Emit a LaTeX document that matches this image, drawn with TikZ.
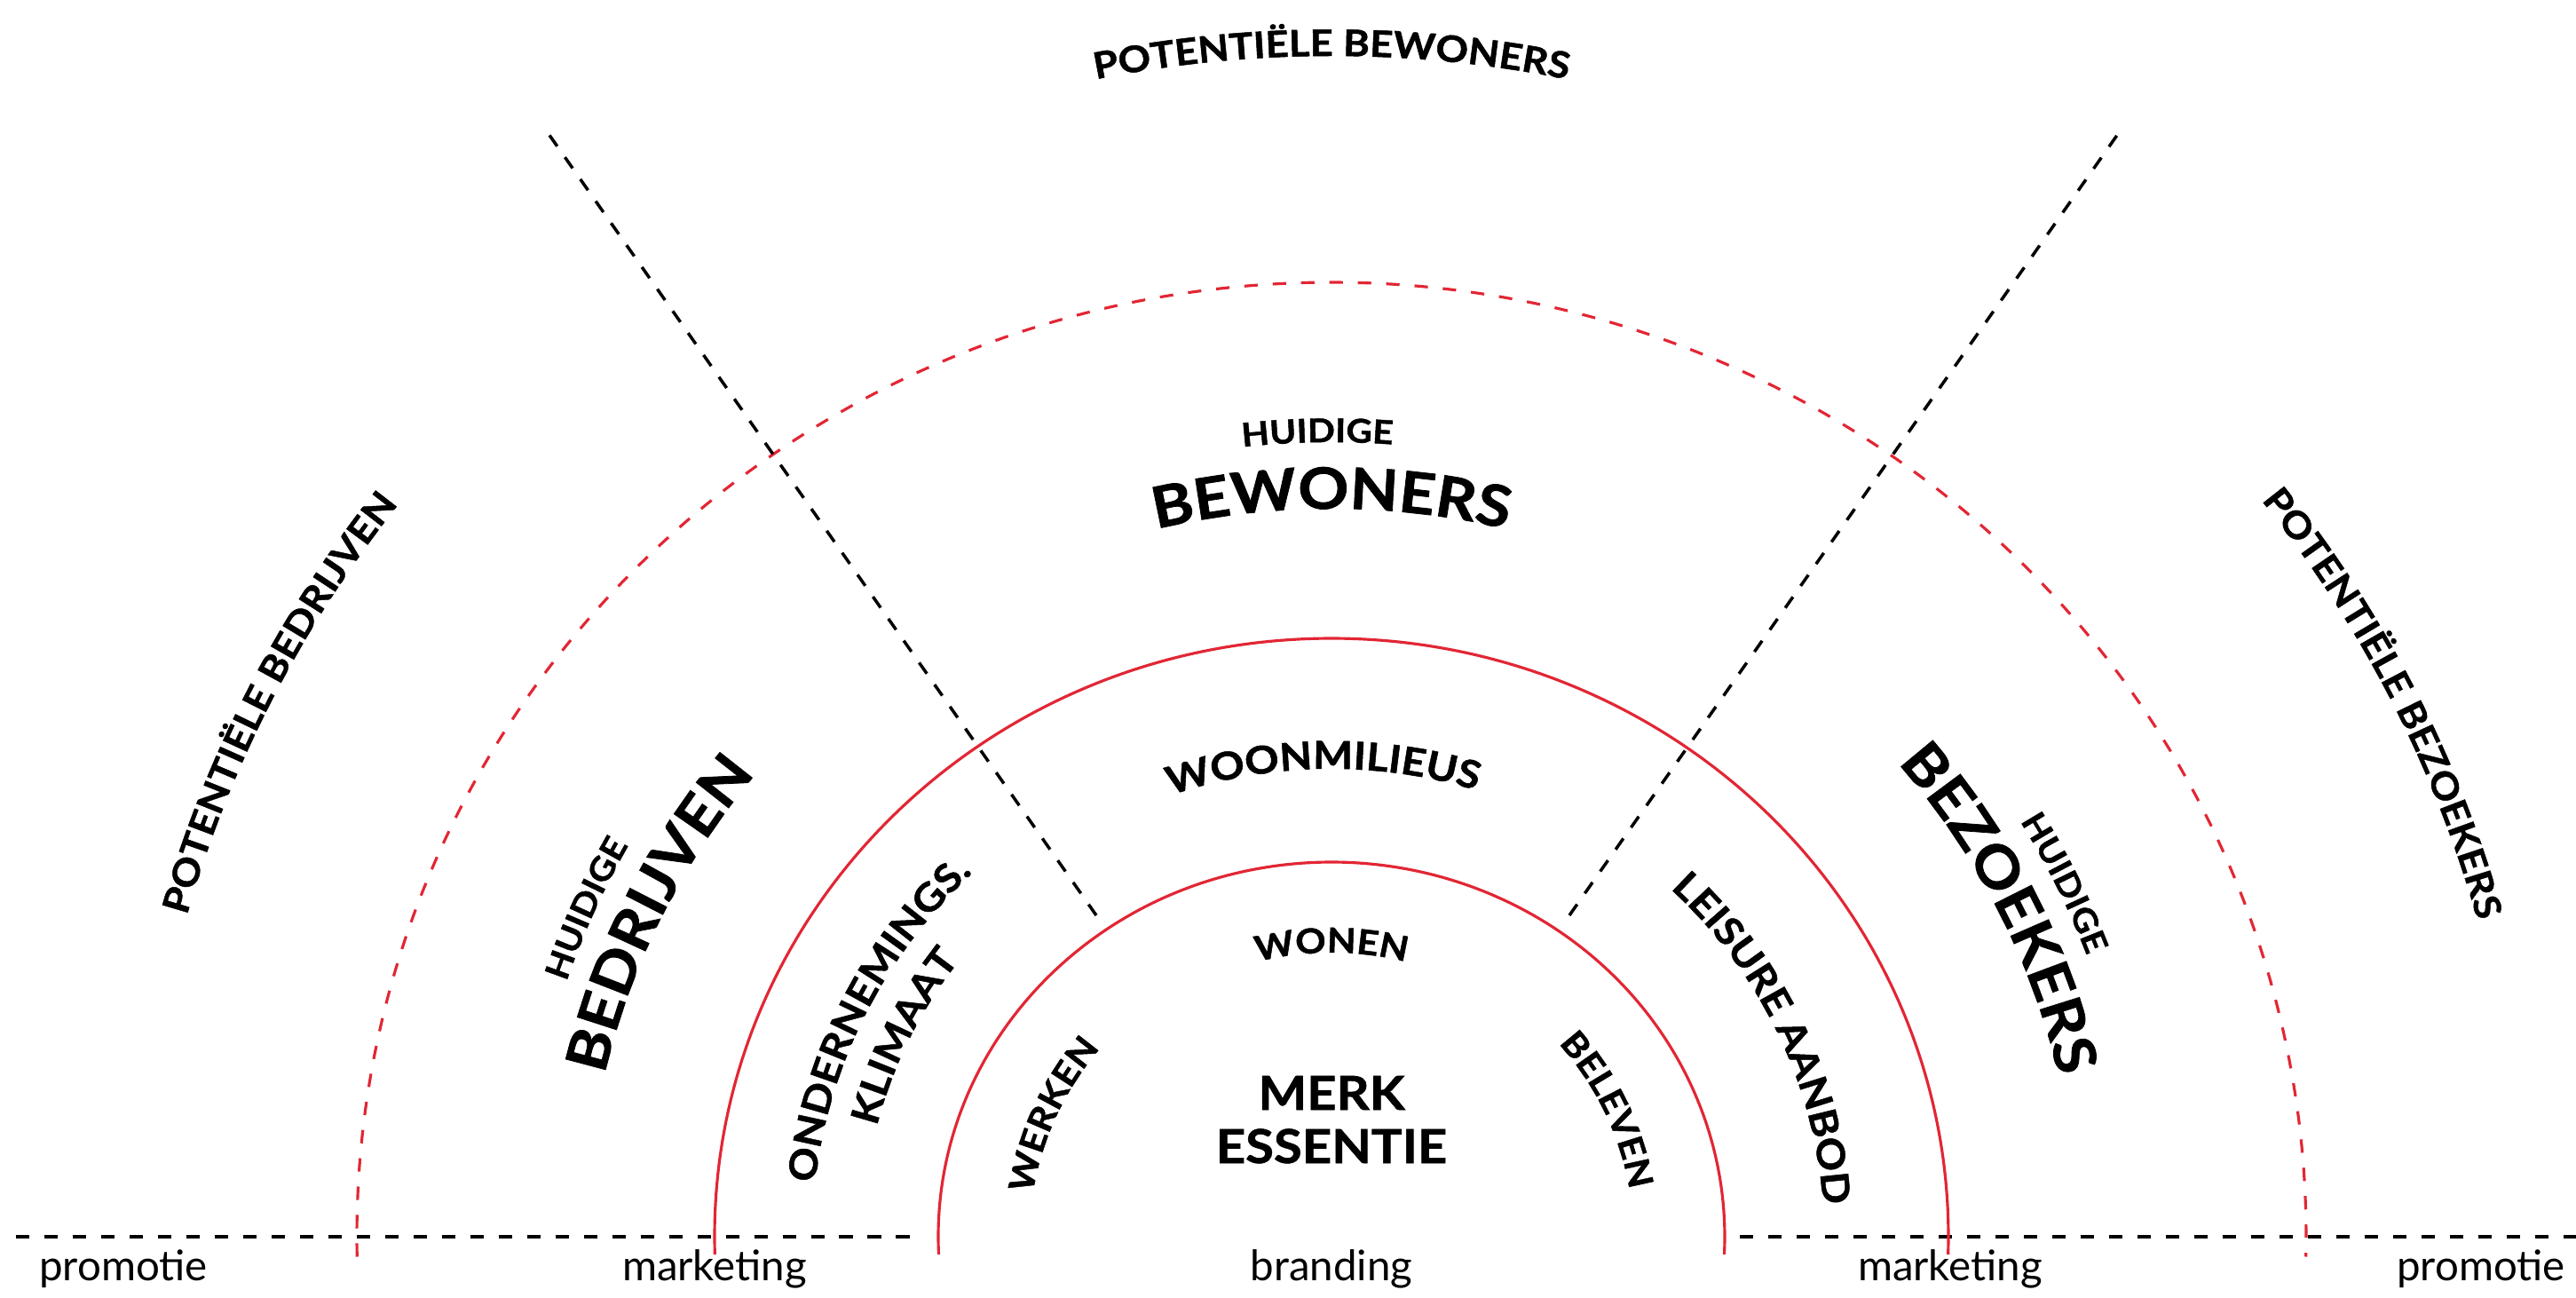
\documentclass[tikz,border=0pt]{standalone}
\usepackage{fontspec}
\setmainfont{Lato}
\newfontfamily\gillbold[FakeStretch=1.1, FakeBold=1.2]{Lato}
\usetikzlibrary{decorations.text}

\definecolor{ringred}{RGB}{226,38,52}

\newcommand\potfont{\gillbold\bfseries\fontsize{11.7}{13}\selectfont}
\newcommand\huidfont{\gillbold\bfseries\fontsize{10.5}{12}\selectfont}
\newcommand\groepfont{\gillbold\bfseries\fontsize{18.3}{22}\selectfont}
\newcommand\milieufont{\gillbold\bfseries\fontsize{12.3}{14}\selectfont}
\newcommand\kernfont{\gillbold\bfseries\fontsize{11}{13}\selectfont}

\tikzset{
  ring/.style={draw=ringred, line width=0.9pt},
  ringdash/.style={ring, dash pattern=on 4.3pt off 4.8pt},
  sector/.style={draw=black, line width=1pt, dash pattern=on 4.3pt off 4.3pt},
  floor/.style={draw=black, line width=1.1pt, dash pattern=on 4.3pt off 4.8pt},
  curved/.style={decorate, decoration={text along path, text align=center, text={#1}}},
  tool/.style={font=\fontsize{13.5}{16}\selectfont, anchor=base, inner sep=0pt},
  essence/.style={font=\gillbold\bfseries\fontsize{15}{18}\selectfont, anchor=base, inner sep=0pt}
}

\begin{document}
\begin{tikzpicture}

\useasboundingbox (-15,-0.68) rectangle (14.02,13.93);

\draw[floor] (-14.82,0) -- (-4.6,0);
\draw[floor] (4.6,0) -- (14.02,0);

\draw[ringdash] (181.2:10.98 and 10.75) arc (181.2:-1.2:10.98 and 10.75);
\draw[ring] (181.7:6.95 and 6.74) arc (181.7:-1.7:6.95 and 6.74);
\draw[ring] (182.7:4.43 and 4.22) arc (182.7:-2.7:4.43 and 4.22);

\draw[sector] (-2.65,3.62) -- (-8.84,12.45);
\draw[sector] (2.68,3.62) -- (8.88,12.45);

\path[curved={|\potfont|POTENTIËLE BEWONERS}] (125:13.4 and 13.3) arc (125:55:13.4 and 13.3);
\path[curved={|\potfont|POTENTIËLE BEDRIJVEN}] (188:13.4 and 13.3) arc (188:118:13.4 and 13.3);
\path[curved={|\potfont|POTENTIËLE BEZOEKERS}] (62:13.4 and 13.3) arc (62:-8:13.4 and 13.3);

\path[curved={|\huidfont|HUIDIGE}] (126:9.1 and 8.95) arc (126:56:9.1 and 8.95);
\path[curved={|\groepfont|BEWONERS}] (125:8.4 and 8.2) arc (125:55:8.4 and 8.2);
\path[curved={|\huidfont|HUIDIGE}] (191:9.1 and 8.95) arc (191:121:9.1 and 8.95);
\path[curved={|\groepfont|BEDRIJVEN}] (189:8.4 and 8.2) arc (189:119:8.4 and 8.2);
\path[curved={|\huidfont|HUIDIGE}] (61:9.1 and 8.95) arc (61:-9:9.1 and 8.95);
\path[curved={|\groepfont|BEZOEKERS}] (61.5:8.4 and 8.2) arc (61.5:-8.5:8.4 and 8.2);

\path[curved={|\milieufont|WOONMILIEUS}] (131:5.45 and 5.27) arc (131:51:5.45 and 5.27);
\path[curved={|\milieufont|ONDERNEMINGS.}] (194:5.85 and 5.67) arc (194:114:5.85 and 5.67);
\path[curved={|\milieufont|KLIMAAT}] (194.5:5.28 and 5.12) arc (194.5:114.5:5.28 and 5.12);
\path[curved={|\milieufont|LEISURE AANBOD}] (65:5.55 and 5.4) arc (65:-15:5.55 and 5.4);

\path[curved={|\kernfont|WONEN}] (130:3.3 and 3.2) arc (130:50:3.3 and 3.2);
\path[curved={|\kernfont|WERKEN}] (196:3.4 and 3.3) arc (196:116:3.4 and 3.3);
\path[curved={|\kernfont|BELEVEN}] (65:3.4 and 3.3) arc (65:-15:3.4 and 3.3);

\node[essence] (merk) at (0,1.43) {MERK};
\node[essence] (essentie) at (0,0.83) {ESSENTIE};

\node[tool] (promoL) at (-13.61,-0.49) {promotie};
\node[tool] (marketL) at (-6.95,-0.49) {marketing};
\node[tool] (branding) at (0,-0.49) {branding};
\node[tool] (marketR) at (6.97,-0.49) {marketing};
\node[tool] (promoR) at (12.95,-0.49) {promotie};

\end{tikzpicture}
\end{document}
